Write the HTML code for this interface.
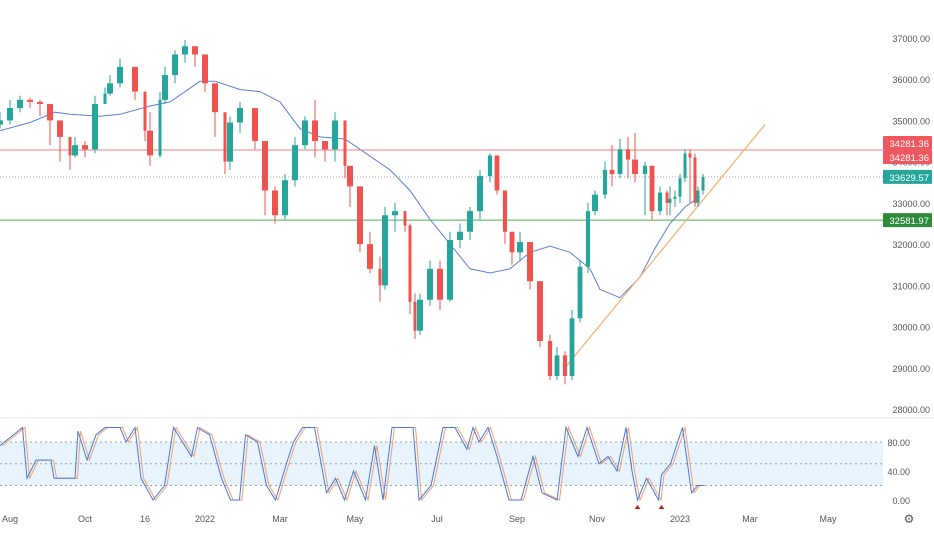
<!DOCTYPE html>
<html><head><meta charset="utf-8">
<style>
body{margin:0;background:#fff;font-family:"Liberation Sans",sans-serif;}
svg text{font-family:"Liberation Sans",sans-serif;}
</style></head>
<body>
<svg id="chart" width="934" height="530" xmlns="http://www.w3.org/2000/svg">
<rect x="0" y="0" width="934" height="530" fill="#fff"/>
<line x1="0" y1="418" x2="934" y2="418" stroke="#e6e6e6"/>
<g id="g-stoch-bg"></g>
<g id="g-ma"></g>
<g id="g-levels"></g>
<g id="g-candles"></g>
<g id="g-stoch"></g>
<g id="g-axis"></g>
</svg>
<script>
const priceTicks=[37000,36000,35000,34000,33000,32000,31000,30000,29000,28000];
const stochTicks=[80,40,0];
const timeLabels=["Aug","Oct","16","2022","Mar","May","Jul","Sep","Nov","2023","Mar","May"];
const timeLabelT=[2,17,29,41,56,71,87.4,103.4,119.4,136,150,165.6];
// candle bar index and closes
const candleT=[0,2,4,6,8,10,12,14,15,17,19,21,22,24,27,29,30,32,33,35,37,39,41,43,45,46,48,51,53,55,57,59,61,63,65,67,69,70,72,74,76,77,79,81,82,83,84,86,88,90,92,94,96,98,99.4,101,102.4,104,106,108,110,111.4,113,114.4,116,117.6,119,121,122.4,124,125.6,127,129,130.4,132,133.4,134,135,136,137,138,139,139.6,140.6];
const candleClose=[35000,35300,35500,35450,35400,35000,34600,34150,34400,34300,35400,35650,35900,36300,35700,34750,34150,35500,36100,36600,36800,36600,35900,35200,34000,34950,35300,34500,33300,32700,33550,34400,35000,34500,34300,35000,33900,33400,32000,31400,31000,32700,32800,32450,30600,29900,30650,31400,30650,32100,32300,32800,33650,34150,33300,32300,31800,32050,31100,29650,28800,29300,28800,30200,31450,32800,33200,33800,33700,34300,34050,33700,33900,32800,33250,33000,33100,33150,33600,34200,34100,33000,33300,33630];
const candleHigh=[35200,35500,35600,35550,35500,35100,34700,34500,34600,34500,35600,35800,36100,36500,36000,35000,35200,35700,36300,36700,36950,36700,36100,35300,35000,35100,35450,35000,34300,33400,33700,34600,35100,35500,34500,35200,34000,33600,33100,32300,31700,32900,33000,32800,32500,30800,30800,31600,31600,32300,32500,32900,33800,34200,34100,33300,32100,32300,32000,30900,29800,29500,29400,30400,31600,33000,33300,34000,34400,34550,34600,34700,34000,33900,33400,33300,33400,33300,33700,34300,34300,34200,33400,33700];
const candleLow=[34800,34900,35200,35300,35100,34400,34000,33800,34100,34100,34200,35400,35600,35800,35500,34500,33900,34100,35400,35900,36400,36300,35700,34600,33700,33800,34700,34300,32700,32500,32600,33400,34300,34100,34000,34000,33600,32900,31800,31300,30600,30900,32300,32300,30300,29700,29800,30500,30400,30600,31900,32100,32600,33500,33200,32000,31500,31600,30900,29500,28700,28700,28600,28700,30100,31300,32700,33100,33400,33600,33600,33500,32700,32600,32700,32700,32700,32900,33000,33500,33000,32900,32900,33200];
const maT=[0,6,11,14,20,24,30,34,40,43,48,52,56,60,64,69,72,78,82,86,90,94,98,102,106,110,114,118,120,124,128,131,134,137,140];
const maVal=[34750,34950,35200,35150,35100,35150,35350,35450,35950,35950,35750,35700,35450,34800,34600,34550,34300,33800,33300,32600,32000,31400,31300,31400,31800,31950,31800,31400,30900,30700,31200,31900,32500,32900,33150];
// stochastic %K
const stochT=[0,4.5,5.4,7.2,10.2,10.8,15,15.6,17.4,19.2,21,24,25.2,27,28.2,30.6,32.9,34.7,38.3,39.5,41.9,44.3,46.1,47.9,49.1,51.5,53.3,55.1,57.5,58.7,60.5,62.9,65.3,67.1,68.9,70.7,73.1,74.9,76.6,78.4,82.6,83.8,86.2,88.6,91,93.4,94.6,95.8,97.6,99.4,101.8,104.2,106.6,108.4,111.4,113.2,115.6,117.4,119.8,121.6,123.4,125.2,126.4,127.5,129.3,131.7,132.3,134.1,136.5,138.3,139.5,140.7];
const stochK=[75,100,30,55,55,30,30,95,55,90,100,100,80,100,30,0,20,100,60,100,90,30,0,0,90,80,20,0,55,80,100,100,10,30,0,40,0,75,0,100,100,0,20,100,100,70,100,80,100,60,0,0,60,10,0,100,60,100,50,60,40,100,40,0,30,0,35,50,100,10,20,20];

const NS="http://www.w3.org/2000/svg";
const xOf=t=>5*t;
const yP=p=>38+(37000-p)*0.04122;
const yS=v=>500-v*0.725;
function mk(tag,attrs,parent){const e=document.createElementNS(NS,tag);for(const k in attrs)e.setAttribute(k,attrs[k]);parent.appendChild(e);return e;}
const gBg=document.getElementById('g-stoch-bg'),gMa=document.getElementById('g-ma'),gLv=document.getElementById('g-levels'),gC=document.getElementById('g-candles'),gS=document.getElementById('g-stoch'),gA=document.getElementById('g-axis');

let b=mk('rect',{x:0,y:yS(80),width:883,height:yS(20)-yS(80),fill:'#e8f4fd'},gBg);


[80,50,20].forEach(v=>{
 const l=mk('line',{x1:0,x2:883,y1:yS(v),y2:yS(v),stroke:'#a0a0a0','stroke-dasharray':'2,3'},gBg);
 
 
});

let d=maT.map((t,i)=>(i?'L':'M')+xOf(t)+','+yP(maVal[i]).toFixed(1)).join('');
let ma=mk('path',{d:d,fill:'none',stroke:'#5b7fd6','stroke-width':1},gMa);



let l1=mk('line',{x1:0,x2:883,y1:yP(34281.36),y2:yP(34281.36),stroke:'#f08080','stroke-width':1},gLv);


let l2=mk('line',{x1:0,x2:883,y1:yP(33629.57),y2:yP(33629.57),stroke:'#aaa','stroke-dasharray':'1,2'},gLv);


let l3=mk('line',{x1:0,x2:883,y1:yP(32581.97),y2:yP(32581.97),stroke:'#4caf50','stroke-width':1},gLv);


let tl=mk('line',{x1:xOf(113),y1:yP(29000),x2:xOf(153),y2:yP(34900),stroke:'#f5b070','stroke-width':1.2},gLv);



for(let i=0;i<candleT.length;i++){
 const o=i?candleClose[i-1]:candleClose[0]-100,c=candleClose[i];
 const col=c>=o?'#26a69a':'#ef5350';
 const x=xOf(candleT[i]);
 const gap=i<candleT.length-1?xOf(candleT[i+1])-x:5;
 const bw=Math.max(3,Math.min(6,gap*0.6));
 const w=mk('line',{x1:x,x2:x,y1:yP(candleHigh[i]),y2:yP(candleLow[i]),stroke:col,'stroke-width':1},gC);
 
 
 const top=yP(Math.max(o,c)),h=Math.max(1,Math.abs(yP(o)-yP(c)));
 const r=mk('rect',{x:x-bw/2,y:top,width:bw,height:h,fill:col},gC);
 
 
}

let dk=stochT.map((t,i)=>(i?'L':'M')+xOf(t)+','+yS(stochK[i]).toFixed(1)).join('');
let ds=stochT.map((t,i)=>(i?'L':'M')+(xOf(t)+2.5)+','+yS(stochK[i]).toFixed(1)).join('');
let sd=mk('path',{d:ds,fill:'none',stroke:'#f0a070','stroke-width':1},gS);


let sk=mk('path',{d:dk,fill:'none',stroke:'#4a78d8','stroke-width':1},gS);


[127.5,132.3].forEach(t=>{
 const m=mk('path',{d:`M${xOf(t)-3},509L${xOf(t)+3},509L${xOf(t)},505Z`,fill:'#b22'},gS);
 
 
});

priceTicks.forEach(p=>{
 const t=mk('text',{x:930,y:yP(p)+4,'font-size':9,fill:'#555','text-anchor':'end'},gA);t.textContent=p.toFixed(2);
 
 
});
stochTicks.forEach(v=>{
 const t=mk('text',{x:910,y:yS(v)+4,'font-size':9,fill:'#555','text-anchor':'end'},gA);t.textContent=v.toFixed(2);
 
 
});
timeLabels.forEach((s,i)=>{
 const t=mk('text',{x:xOf(timeLabelT[i]),y:522,'font-size':9,fill:'#555','text-anchor':'middle'},gA);t.textContent=s;
 
 
});
const badges=[[34281.36,'#f05860',-7],[34281.36,'#f05860',7],[33629.57,'#26a69a',0],[32581.97,'#2e8b3a',0]];
badges.forEach(([v,col,dy])=>{
 const y=yP(v)+dy;
 const r=mk('rect',{x:883,y:y-7,width:49,height:14,fill:col,rx:1},gA);
 
 
 const t=mk('text',{x:929,y:y+4,'font-size':9.5,fill:'#fff','text-anchor':'end'},gA);t.textContent=v.toFixed(2);
 
 
});
const g=mk('text',{x:909,y:523,'font-size':12,fill:'#555','text-anchor':'middle'},gA);g.textContent='⚙';


</script>
</body></html>
